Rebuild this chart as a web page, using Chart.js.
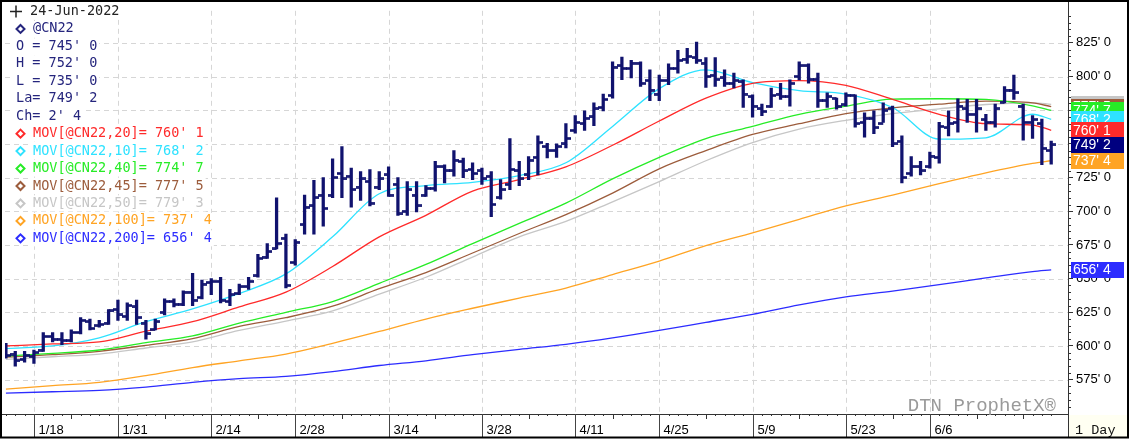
<!DOCTYPE html>
<html>
<head>
<meta charset="utf-8">
<script src="https://cdn.jsdelivr.net/npm/chart.js@4.4.0/dist/chart.umd.min.js"></script>
<style>
  html, body { margin: 0; padding: 0; background: #fff; }
  #wrap { width: 1129px; height: 439px; }
</style>
</head>
<body>
<div id="wrap"><canvas id="chart" width="1129" height="439"></canvas></div>
<script>
// trading days, 12-Jan-2022 .. 24-Jun-2022
const dates = [
  '1/12','1/13','1/14','1/18','1/19','1/20','1/21','1/24','1/25','1/26','1/27','1/28','1/31',
  '2/1','2/2','2/3','2/4','2/7','2/8','2/9','2/10','2/11','2/14','2/15','2/16','2/17','2/18','2/22','2/23','2/24','2/25','2/28',
  '3/1','3/2','3/3','3/4','3/7','3/8','3/9','3/10','3/11','3/14','3/15','3/16','3/17','3/18','3/21','3/22','3/23','3/24','3/25','3/28','3/29','3/30','3/31',
  '4/1','4/4','4/5','4/6','4/7','4/8','4/11','4/12','4/13','4/14','4/18','4/19','4/20','4/21','4/22','4/25','4/26','4/27','4/28','4/29',
  '5/2','5/3','5/4','5/5','5/6','5/9','5/10','5/11','5/12','5/13','5/16','5/17','5/18','5/19','5/20','5/23','5/24','5/25','5/26','5/27','5/31',
  '6/1','6/2','6/3','6/6','6/7','6/8','6/9','6/10','6/13','6/14','6/15','6/16','6/17','6/21','6/22','6/23','6/24'
];

// price in cents/bu, eighths as decimals
const opens = [
  600,594,590,592,597,607,605,604,610,618,615,617,627,622,629,617,612,625,633,631,
  640,636,647,648,633,639,644,652,666,672,680,662,690,704,712,712,728,726,718,722,
  718,727,720,700,712,712,717,733,730,737,731,730,726,710,720,730,727,740,748,745,
  750,760,765,770,777,786,808,806,810,797,787,797,806,813,814,810,801,799,795,796,
  785,776,778,787,785,800,808,798,782,784,779,786,766,769,765,776,752,728,733,733,
  740,762,766,776,772,768,766,781,790,778,766,765,745
];
const highs = [
  602,596,596,597,610,610,610,612,621,620,619,627,634,632,634,619,620,635,635,641,
  654,649,650,651,642,646,651,668,676,710,683,679,712,723,725,739,748,732,729.5,731,
  729.5,733,725,722,722,719,737,734.5,745,739.5,736,732,729.5,723.5,754,737,740.5,756,750.5,750,
  765,771,774.5,780.5,787,811,814.5,812,811,805,801,809.5,819.5,821,825.5,814,814,805,802.5,797.5,
  786.5,779.5,791.5,795,797.5,811,809.5,802.5,788,784,788,786.5,773,774.5,780.5,778,756,740.5,737,744,
  766,774.5,783.5,783,783,772,779.5,792.5,801,779.5,771,768.5,752
];
const lows = [
  591,585,588,587,596,603,601,603,609,612,614,616,619,619,616,605,612,623,629,630,
  630,635,638,632,630,638,642,651,665,672,643,660,683,683,689,710,710,703,708,704,
  716,711,697,697,699.5,711,715,721,726,725,723.5,720,696,709,716,719,723.5,727,739.5,740,
  747,758,760,763.5,774.5,784,797.75,799,792.75,782,782,794,802.5,809.75,809.75,792,792.75,792.75,791.5,777,
  769.75,771,777,783,778,797.5,795,777,777,775.75,778,762.5,755,757.5,766,748,721,726,727,732,
  735.75,756,758.75,766,758.75,760,762.5,780.5,783,752.75,754,734.5,735
];
const closes = [
  593,589,593,595,607,605,604,610,619,613,616,626,623,630,621,609,618,633,631,640,
  634,646,648,634,638,644,648,665,670,676,645,677,703,710,702,725,724,716,724,706,
  724,712,698,716,704,717,733,730,738,730,728,724,705,716,731,724,738,751,745,748,
  754,766,769,776,783,807,806,810,795,790,797,806,812,815,812,800,798,795,797,787,
  778,774,786,785,795,808,798,782,785,778,786,765,769,762,775,750,725,733,730,741,
  763,765,778,772,776,766,776,790,788,766,768,746.75,749.25
];

// moving averages at these bar indices
const maIndex = [0,5,10,15,20,25,30,35,40,45,50,55,60,65,70,75,80,85,90,95,100,105,110,112];
const ma10  = [598,600,606,618,627.5,639,653.5,681,713,719,721.5,726.5,736,763,791,805,795.5,789.5,787,777,753.5,754.5,772,768.25];
const ma20  = [600,601.5,603,611,618,629,640,659,681,697,715,723.5,733,749,767,784,795,797,793.5,783,772,765,764,760.125];
const ma40  = [592.5,594.5,597,602.5,607.5,617,625,633,646.5,660.5,676,691,706,724,740,754,763,772,778,783.25,783.5,783,778.25,774.875];
const ma45  = [591.75,593.5,596,600.5,605.5,614.5,621,629.5,642.5,654.5,669,683.5,697.5,713.5,731.5,745,757,765,772.5,776.75,779.5,781.75,780.5,777.625];
const ma50  = [590,592,594,598.5,603,611.5,618.5,626,638.5,651,666,681,692.5,707,722,737.5,751,761,767.5,772.5,776,779.25,780.5,779.375];
const ma100 = [568,570.5,573,578,584,589,594,602,610.75,620,628,635.5,643,653,663,674.5,684,694,704,712,720.5,728.5,735.5,737.5];
const ma200 = [565,566,567,569.5,573,575.75,577.5,581,585.5,589,593.5,597.5,601.25,606,611.5,617.5,623.5,630.5,636.5,640.75,645.5,650.5,655.25,656.5];

const dateLabels = ['1/18','1/31','2/14','2/28','3/14','3/28','4/11','4/25','5/9','5/23','6/6'];
const priceTicks = [575,600,625,650,675,700,725,750,775,800,825];

const BAR = '#10126e';
const NAVY = '#25257d';
const GRID = '#d6d6d6';
const maSeries = [
  { len: 20,  values: ma20,  color: '#ff2a2a' },
  { len: 10,  values: ma10,  color: '#2ee2ff' },
  { len: 40,  values: ma40,  color: '#26ec26' },
  { len: 45,  values: ma45,  color: '#9c5c3c' },
  { len: 50,  values: ma50,  color: '#c6c6c6' },
  { len: 100, values: ma100, color: '#ffa424' },
  { len: 200, values: ma200, color: '#2c2cff' }
];

function fmt(v) {
  const w = Math.floor(v + 1e-9);
  return w + "' " + Math.round((v - w) * 8);
}
const last = closes.length - 1;

function makeTick(side) {
  const c = document.createElement('canvas');
  c.width = 10; c.height = 3;
  const g = c.getContext('2d');
  g.fillStyle = BAR;
  g.fillRect(side === 'left' ? 0 : 5, 0.2, 5, 2.6);
  return c;
}

const overlay = {
  id: 'overlay',
  beforeDraw(chart) {
    const ctx = chart.ctx;
    ctx.save();
    ctx.fillStyle = '#fff';
    ctx.fillRect(0, 0, chart.width, chart.height);
    ctx.restore();
  },
  beforeDatasetsDraw(chart) {
    // dashed grid
    const { ctx, chartArea: a, scales: { x, y } } = chart;
    ctx.save();
    ctx.strokeStyle = GRID;
    ctx.lineWidth = 1;
    ctx.setLineDash([5, 4]);
    ctx.beginPath();
    priceTicks.forEach(v => {
      const py = Math.round(y.getPixelForValue(v)) + 0.5;
      ctx.moveTo(a.left, py); ctx.lineTo(a.right, py);
    });
    dateLabels.forEach(l => {
      const px = Math.round(x.getPixelForValue(dates.indexOf(l))) + 0.5;
      ctx.moveTo(px, a.top); ctx.lineTo(px, a.bottom);
    });
    ctx.stroke();
    ctx.restore();
  },
  afterDraw(chart) {
    const { ctx, chartArea: a, scales: { x, y } } = chart;
    ctx.save();

    // axis lines
    ctx.strokeStyle = '#333';
    ctx.lineWidth = 1;
    ctx.beginPath();
    ctx.moveTo(2, a.bottom + 0.5); ctx.lineTo(a.right, a.bottom + 0.5);
    ctx.moveTo(a.right + 0.5, 2); ctx.lineTo(a.right + 0.5, 437);
    ctx.stroke();

    // minor price ticks
    ctx.beginPath();
    for (let v = 555; v <= 845; v += 5) {
      if (v % 25 === 0) continue;
      const py = Math.round(y.getPixelForValue(v)) + 0.5;
      ctx.moveTo(a.right, py); ctx.lineTo(a.right + 3, py);
    }
    ctx.stroke();

    // day ticks and week marks on the date strip
    ctx.beginPath();
    dates.forEach((d, i) => {
      const px = Math.round(x.getPixelForValue(i)) + 0.5;
      const [m, dd] = d.split('/').map(Number);
      const wd = new Date(2022, m - 1, dd).getDay();
      let weekStart = false;
      if (i > 0) {
        const [pm, pd] = dates[i - 1].split('/').map(Number);
        weekStart = wd < new Date(2022, pm - 1, pd).getDay();
      }
      const h = weekStart ? 5 : 2;
      ctx.moveTo(px, a.bottom); ctx.lineTo(px, a.bottom + h);
    });
    ctx.stroke();

    // date separators and labels
    ctx.font = '13px "Liberation Sans", Arial, sans-serif';
    ctx.fillStyle = '#000';
    ctx.textBaseline = 'alphabetic';
    ctx.textAlign = 'left';
    dateLabels.forEach(lbl => {
      const i = dates.indexOf(lbl);
      const px = Math.round(x.getPixelForValue(i)) + 0.5;
      ctx.strokeStyle = '#444';
      ctx.beginPath();
      ctx.moveTo(px, a.bottom); ctx.lineTo(px, 437);
      ctx.stroke();
      ctx.fillText(lbl, px + 4, 434);
    });

    // 1 Day box
    ctx.fillStyle = '#fffff2';
    ctx.fillRect(a.right + 1, a.bottom + 1, 1127 - a.right - 1, 437 - a.bottom - 1);
    ctx.fillStyle = '#111';
    ctx.font = '13.5px "Liberation Mono", monospace';
    ctx.fillText('1 Day', a.right + 7, 434);

    // watermark
    ctx.fillStyle = '#9a9a9a';
    ctx.font = '19px "Liberation Mono", monospace';
    ctx.textAlign = 'right';
    ctx.fillText('DTN ProphetX\u00ae', 1056, 411);

    // value boxes on the price axis
    ctx.textAlign = 'left';
    ctx.textBaseline = 'middle';
    ctx.font = '14px "Liberation Sans", Arial, sans-serif';
    const byLen = l => maSeries.find(s => s.len === l);
    const boxes = [
      byLen(50), byLen(45), byLen(40), byLen(10), byLen(20),
      { values: [closes[last]], color: '#000080' },
      byLen(100), byLen(200)
    ];
    boxes.forEach(s => {
      const v = s.values[s.values.length - 1];
      const py = y.getPixelForValue(v);
      ctx.fillStyle = s.color;
      ctx.fillRect(a.right + 3, Math.round(py - 8), 53, 16);
      ctx.fillStyle = '#fff';
      ctx.fillText(fmt(v), a.right + 5, py + 0.5);
    });

    // legend block
    ctx.font = '13.5px "DejaVu Sans Mono", monospace';
    const lines = [
      { t: '24-Jun-2022', c: '#222', x: 30, mark: 'cross' },
      { t: '@CN22', c: NAVY, x: 33, mark: 'diamond' },
      { t: 'O = ' + fmt(opens[last]), c: NAVY, x: 16 },
      { t: 'H = ' + fmt(highs[last]), c: NAVY, x: 16 },
      { t: 'L = ' + fmt(lows[last]), c: NAVY, x: 16 },
      { t: 'La= ' + fmt(closes[last]), c: NAVY, x: 16 },
      { t: 'Ch= ' + fmt(closes[last] - closes[last - 1]), c: NAVY, x: 16 }
    ];
    maSeries.forEach(s => lines.push({
      t: 'MOV[@CN22,' + s.len + ']= ' + fmt(s.values[s.values.length - 1]),
      c: s.color, x: 33, mark: 'diamond'
    }));
    lines.forEach((ln, k) => {
      const ly = 11.5 + k * 17.45;
      const w = ctx.measureText(ln.t).width;
      ctx.fillStyle = '#fff';
      ctx.fillRect(ln.x - 2, ly - 8, w + 4, 16);
      ctx.fillStyle = ln.c;
      ctx.fillText(ln.t, ln.x, ly);
      ctx.strokeStyle = ln.c;
      if (ln.mark === 'diamond') {
        ctx.lineWidth = 2;
        ctx.beginPath();
        ctx.moveTo(20.5, ly - 4); ctx.lineTo(24.5, ly); ctx.lineTo(20.5, ly + 4); ctx.lineTo(16.5, ly);
        ctx.closePath();
        ctx.stroke();
      } else if (ln.mark === 'cross') {
        ctx.lineWidth = 1.5;
        ctx.beginPath();
        ctx.moveTo(10, ly); ctx.lineTo(22, ly);
        ctx.moveTo(16, ly - 6); ctx.lineTo(16, ly + 6);
        ctx.stroke();
      }
    });

    // outer frame
    ctx.strokeStyle = '#000';
    ctx.lineWidth = 2;
    ctx.strokeRect(1, 1, 1127, 436.5);
    ctx.restore();
  }
};

const datasets = [
  {
    type: 'bar',
    data: highs.map((h, i) => ({ x: i, y: [lows[i], h] })),
    backgroundColor: BAR,
    borderWidth: 0,
    barThickness: 2.6,
    grouped: false,
    order: 0
  },
  {
    type: 'line',
    data: opens.map((v, i) => ({ x: i, y: v })),
    showLine: false,
    pointStyle: makeTick('left'),
    pointRadius: 3,
    order: 0
  },
  {
    type: 'line',
    data: closes.map((v, i) => ({ x: i, y: v })),
    showLine: false,
    pointStyle: makeTick('right'),
    pointRadius: 3,
    order: 0
  }
];
maSeries.slice().reverse().forEach((s, k) => {
  datasets.push({
    type: 'line',
    data: maIndex.map((ix, j) => ({ x: ix, y: s.values[j] })),
    borderColor: s.color,
    borderWidth: 1.3,
    pointRadius: 0,
    cubicInterpolationMode: 'monotone',
    order: 10 - k
  });
});

new Chart(document.getElementById('chart'), {
  type: 'bar',
  data: { datasets },
  options: {
    responsive: false,
    animation: false,
    devicePixelRatio: 1,
    layout: { padding: { top: 3, left: 3, right: 0, bottom: 0 } },
    plugins: { legend: { display: false }, tooltip: { enabled: false } },
    scales: {
      x: {
        type: 'linear',
        min: -0.1,
        max: 113.8,
        offset: false,
        afterBuildTicks: s => { s.ticks = dateLabels.map(l => ({ value: dates.indexOf(l) })); },
        afterFit: s => { s.height = 25; },
        ticks: { display: false },
        grid: { display: false, offset: false },
        border: { display: false }
      },
      y: {
        position: 'right',
        min: 549.5,
        max: 848.8,
        beginAtZero: false,
        afterBuildTicks: s => { s.ticks = priceTicks.map(v => ({ value: v })); },
        afterFit: s => { s.width = 61; },
        ticks: {
          color: '#000',
          padding: 3,
          font: { family: '"Liberation Sans", Arial, sans-serif', size: 13 },
          callback: v => fmt(v)
        },
        grid: { color: 'rgba(0,0,0,0)', tickColor: '#333', tickLength: 5, drawOnChartArea: false },
        border: { display: false }
      }
    }
  },
  plugins: [overlay]
});
</script>
</body>
</html>
